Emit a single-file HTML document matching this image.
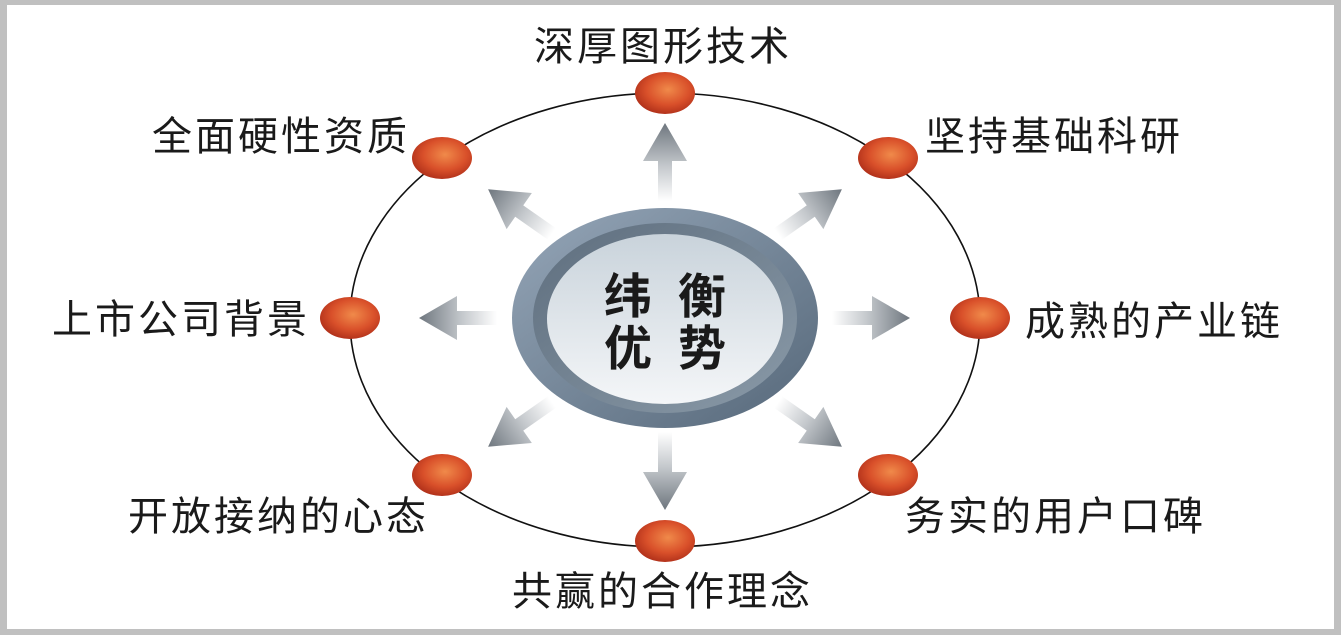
<!DOCTYPE html>
<html><head><meta charset="utf-8"><style>
html,body{margin:0;padding:0;background:#c0c0c0;}
.wrap{position:absolute;left:0;top:0;width:1341px;height:635px;background:#c0c0c0;}
svg{position:absolute;left:0;top:0;}
</style></head><body><div class="wrap">
<svg width="1341" height="635" viewBox="0 0 1341 635" xmlns="http://www.w3.org/2000/svg">
<defs>
<linearGradient id="ag" x1="0" y1="0" x2="1" y2="0">
<stop offset="0" stop-color="#ffffff"/><stop offset="0.45" stop-color="#c4c8cc"/><stop offset="1" stop-color="#6e767e"/>
</linearGradient>
<radialGradient id="rg" cx="0.55" cy="0.42" r="0.6">
<stop offset="0" stop-color="#f08a4a"/><stop offset="0.6" stop-color="#d9502a"/><stop offset="1" stop-color="#b0301a"/>
</radialGradient>
<linearGradient id="ring" x1="0" y1="0" x2="1" y2="1">
<stop offset="0" stop-color="#95a6b8"/><stop offset="1" stop-color="#56687a"/>
</linearGradient>
<linearGradient id="ring2" x1="0" y1="0" x2="1" y2="1">
<stop offset="0" stop-color="#5e6e7e"/><stop offset="1" stop-color="#8a9aa8"/>
</linearGradient>
<linearGradient id="inner" x1="0" y1="0" x2="0" y2="1">
<stop offset="0" stop-color="#c9d3db"/><stop offset="1" stop-color="#f4f6f8"/>
</linearGradient>
<path id="arr" d="M0,-7 L40,-7 L40,-22 L78,0 L40,22 L40,7 L0,7 Z" fill="url(#ag)"/>
</defs>
<rect x="7" y="5" width="1327" height="624" fill="#ffffff"/>
<ellipse cx="665" cy="320" rx="315" ry="227" fill="none" stroke="#111" stroke-width="1.6"/>
<use href="#arr" transform="translate(665,201) rotate(-90)"/>
<use href="#arr" transform="translate(665,432) rotate(90)"/>
<use href="#arr" transform="translate(497,318) rotate(180)"/>
<use href="#arr" transform="translate(832,318)"/>
<use href="#arr" transform="translate(552,234) rotate(-145)"/>
<use href="#arr" transform="translate(778,234) rotate(-35)"/>
<use href="#arr" transform="translate(552,402) rotate(145)"/>
<use href="#arr" transform="translate(778,402) rotate(35)"/>
<ellipse cx="665" cy="318" rx="153" ry="110" fill="url(#ring)"/>
<ellipse cx="665" cy="318" rx="132" ry="95" fill="url(#ring2)"/>
<ellipse cx="665" cy="319" rx="118" ry="85" fill="url(#inner)"/>
<g font-family="Liberation Sans,'Noto Sans CJK SC',sans-serif" font-weight="bold" font-size="48" fill="#1a1a1a" text-anchor="middle">
<text x="678" y="313" letter-spacing="26">纬衡</text>
<text x="678" y="365" letter-spacing="26">优势</text>
</g>
<g fill="url(#rg)">
<ellipse cx="665" cy="93" rx="30" ry="21"/>
<ellipse cx="442" cy="158" rx="30" ry="21"/>
<ellipse cx="888" cy="158" rx="30" ry="21"/>
<ellipse cx="350" cy="318" rx="30" ry="21"/>
<ellipse cx="980" cy="318" rx="30" ry="21"/>
<ellipse cx="442" cy="475" rx="30" ry="21"/>
<ellipse cx="888" cy="475" rx="30" ry="21"/>
<ellipse cx="665" cy="541" rx="30" ry="21"/>
</g>
<g font-family="Liberation Sans,'Noto Sans CJK SC',sans-serif" font-size="40" fill="#1a1a1a" letter-spacing="3">
<text x="534" y="60">深厚图形技术</text>
<text x="152" y="150">全面硬性资质</text>
<text x="925" y="150">坚持基础科研</text>
<text x="52" y="333">上市公司背景</text>
<text x="1025" y="335">成熟的产业链</text>
<text x="128" y="530">开放接纳的心态</text>
<text x="905" y="530">务实的用户口碑</text>
<text x="512" y="605">共赢的合作理念</text>
</g>
</svg>
</div></body></html>
